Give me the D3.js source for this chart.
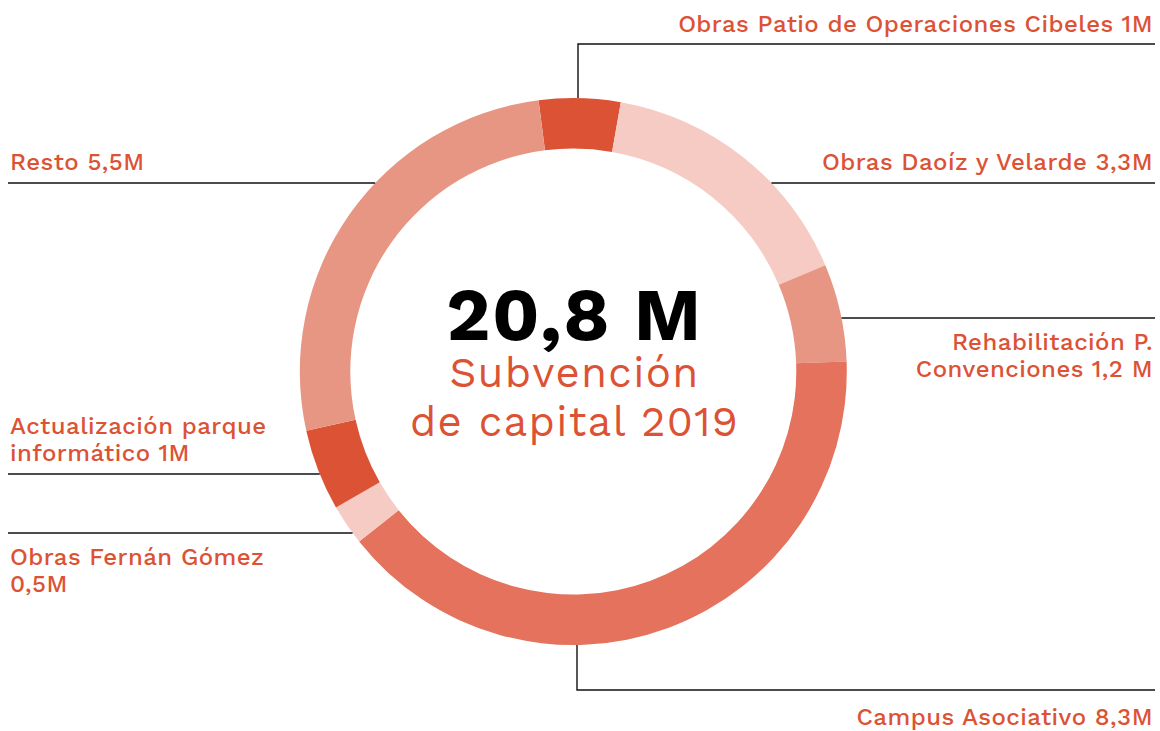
<!DOCTYPE html>
<html>
<head>
<meta charset="utf-8">
<script src="https://cdn.jsdelivr.net/npm/d3@7"></script>
<style>
  body { margin: 0; background: #fff; }
  svg text { font-family: "Work Sans", "Open Sans", sans-serif; }
</style>
</head>
<body>
<div id="chart"></div>
<script>
// data
var categories = ["Obras Patio de Operaciones Cibeles", "Obras Daoíz y Velarde", "Rehabilitación P. Convenciones",
                  "Campus Asociativo", "Obras Fernán Gómez", "Actualización parque informático", "Resto"];
var values = [1, 3.3, 1.2, 8.3, 0.5, 1, 5.5];
var labelLines = [
  ["Obras Patio de Operaciones Cibeles 1M"],
  ["Obras Daoíz y Velarde 3,3M"],
  ["Rehabilitación P.", "Convenciones 1,2 M"],
  ["Campus Asociativo 8,3M"],
  ["Obras Fernán Gómez", "0,5M"],
  ["Actualización parque", "informático 1M"],
  ["Resto 5,5M"]
];
var totalLabel = "20,8 M";
var subtitle = ["Subvención", "de capital 2019"];

// styles / layout
var palette = ["#dc5235", "#f5cbc3", "#e89684", "#e4725c", "#f5cbc3", "#dc5235", "#e89684"];
var red = "#dc5235";
var width = 1160, height = 731;
var cx = 573.3, cy = 371.5, outerR = 273.5, innerR = 223;
var leftX = 8, rightX = 1155;
var leaders = [
  {kind: "up",   x: 578, y: 44,  textY: [32]},
  {kind: "h",    side: "right", y: 183, textY: [170]},
  {kind: "h",    side: "right", y: 318, textY: [350, 377]},
  {kind: "down", x: 577, y: 690, textY: [725]},
  {kind: "h",    side: "left",  y: 533, textY: [565, 592]},
  {kind: "h",    side: "left",  y: 474, textY: [434, 461]},
  {kind: "h",    side: "left",  y: 183, textY: [170]}
];

var svg = d3.select("#chart")
  .append("svg")
    .attr("width", width)
    .attr("height", height);

// donut
var startAngle = -7.3 * Math.PI / 180;
var pie = d3.pie()
  .sort(null)
  .startAngle(startAngle)
  .endAngle(startAngle + 2 * Math.PI);

var arc = d3.arc()
  .innerRadius(innerR)
  .outerRadius(outerR);

var g = svg.append("g")
  .attr("transform", "translate(" + cx + "," + cy + ")");

g.selectAll("path")
  .data(pie(values))
  .enter()
  .append("path")
    .attr("d", arc)
    .attr("fill", function(d, i) { return palette[i]; });

// leader lines: start at outer edge of the ring
function edgeX(y, side) {
  var dy = y - cy;
  var dx = Math.sqrt(outerR * outerR - dy * dy);
  return side == "left" ? cx - dx : cx + dx;
}
function edgeY(x, dir) {
  var dx = x - cx;
  var dy = Math.sqrt(outerR * outerR - dx * dx);
  return dir == "up" ? cy - dy : cy + dy;
}

var lines = svg.append("g")
  .attr("fill", "none")
  .attr("stroke", "#111")
  .attr("stroke-width", 1.4);

leaders.forEach(function(l) {
  var pts;
  if (l.kind == "h") {
    var x0 = edgeX(l.y, l.side);
    pts = [[x0, l.y], [l.side == "left" ? leftX : rightX, l.y]];
  } else {
    pts = [[l.x, edgeY(l.x, l.kind)], [l.x, l.y], [rightX, l.y]];
  }
  lines.append("path").attr("d", d3.line()(pts));
});

// labels
var labels = svg.append("g")
  .attr("fill", red)
  .style("font-size", "24px")
  .style("font-weight", 500)
  .style("letter-spacing", "0.45px");

leaders.forEach(function(l, i) {
  var left = l.kind == "h" && l.side == "left";
  labelLines[i].forEach(function(t, j) {
    labels.append("text")
      .attr("x", left ? 10 : 1153)
      .attr("y", l.textY[j])
      .attr("text-anchor", left ? "start" : "end")
      .text(t);
  });
});

// centre
svg.append("text")
  .attr("x", 574.5)
  .attr("y", 340)
  .attr("text-anchor", "middle")
  .style("font-size", "74px")
  .style("font-weight", 700)
  .style("letter-spacing", "1.5px")
  .attr("fill", "#000")
  .text(totalLabel);

svg.selectAll(".sub")
  .data(subtitle)
  .enter()
  .append("text")
    .attr("class", "sub")
    .attr("x", 574.5)
    .attr("y", function(d, i) { return 387 + i * 49; })
    .attr("text-anchor", "middle")
    .style("font-size", "42px")
    .style("font-weight", 400)
    .style("letter-spacing", "1.3px")
    .attr("fill", red)
    .text(function(d) { return d; });
</script>
</body>
</html>
